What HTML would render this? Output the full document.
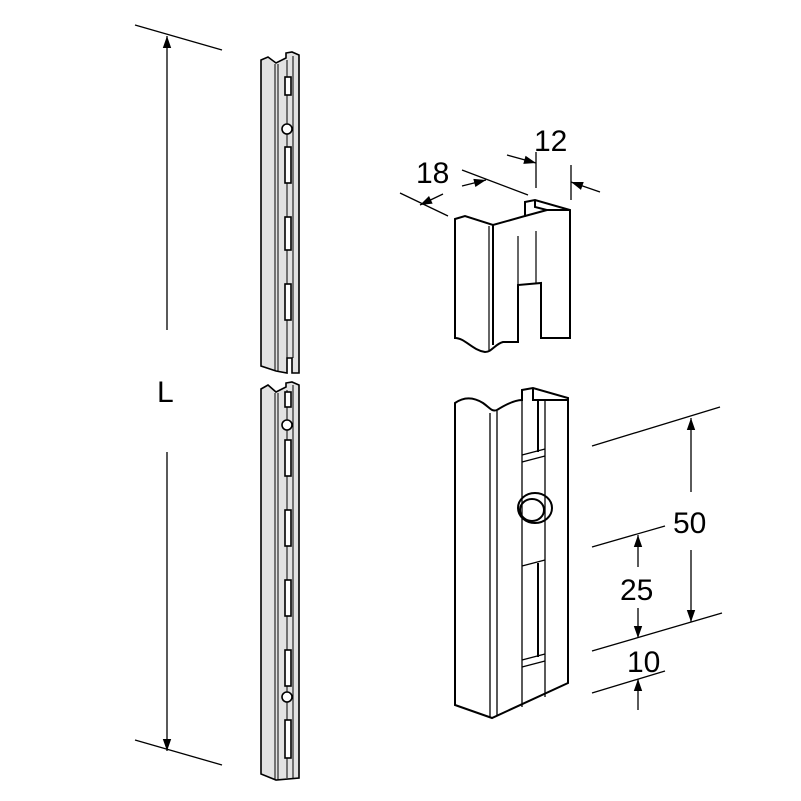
<!DOCTYPE html>
<html><head><style>
html,body{margin:0;padding:0;background:#fff}
svg{display:block}
text{font-family:"Liberation Sans",sans-serif;fill:#000}
</style></head><body>
<svg width="801" height="801" viewBox="0 0 801 801" xmlns="http://www.w3.org/2000/svg">
<defs>
<marker id="a" viewBox="0 0 10 10" refX="10" refY="5" markerWidth="14" markerHeight="12" orient="auto-start-reverse" markerUnits="userSpaceOnUse"><path d="M0,1.5 L10,5 L0,8.5z" fill="#000"/></marker>
</defs>
<g stroke="#000" stroke-width="1.3" fill="none">
<line x1="135" y1="25" x2="222" y2="50"/>
<line x1="135" y1="740" x2="222" y2="765"/>
<line x1="167" y1="330" x2="167" y2="36" marker-end="url(#a)"/>
<line x1="167" y1="452" x2="167" y2="751" marker-end="url(#a)"/>
</g>
<text x="157" y="402" font-size="30">L</text>

<g stroke="#000" stroke-width="1.6" fill="#e2e2e2">
<path d="M261,60 L268,57 L276,63 L286,58 L286,53 L292,52 L299,55 L299,373 L292,373 L292,358 L287,358 L287,373 L276,371 L261,366 Z"/>
<path d="M261,389 L268,385 L276,392 L286,387 L286,383 L292,382 L299,385 L299,778 L276,780 L261,774 Z"/>
</g>
<g stroke="#000" stroke-width="1" fill="none">
<line x1="275" y1="64" x2="275" y2="371"/><line x1="278" y1="64" x2="278" y2="371"/>
<line x1="287" y1="60" x2="287" y2="358"/><line x1="293" y1="56" x2="293" y2="358"/>
<line x1="275" y1="393" x2="275" y2="780"/><line x1="278" y1="393" x2="278" y2="780"/>
<line x1="287" y1="390" x2="287" y2="778"/><line x1="293" y1="385" x2="293" y2="778"/>
</g>
<g stroke="#000" stroke-width="1.6" fill="#fff">
<rect x="285" y="77" width="6" height="18"/>
<rect x="285" y="147" width="6" height="36"/>
<rect x="285" y="217" width="6" height="33"/>
<rect x="285" y="284" width="6" height="36"/>
<ellipse cx="287" cy="129" rx="5" ry="5"/>
<rect x="285" y="392" width="6" height="15"/>
<ellipse cx="287" cy="425" rx="5" ry="5"/>
<rect x="285" y="440" width="6" height="36"/>
<rect x="285" y="510" width="6" height="36"/>
<rect x="285" y="580" width="6" height="36"/>
<rect x="285" y="650" width="6" height="36"/>
<ellipse cx="287" cy="697" rx="5" ry="5"/>
<rect x="285" y="720" width="6" height="38"/>
</g>

<g stroke="#000" stroke-width="2" fill="#fff">
<path d="M455,219 L465,216 L493,225 L525,216 L525,202 L535,200 L570,210 L570,338 L541,338 L541,283 L518,285 L518,342 L503,342 C495,344 492,352 485,352 C472,350 465,338 455,338 Z"/>
<path d="M493,225 L493,345" fill="none"/>
<path d="M525,216 L547,210 L535,207 L535,201" fill="none"/>
<path d="M547,210 L570,210" fill="none"/>
</g>
<g stroke="#000" stroke-width="1.2" fill="none">
<line x1="489" y1="226" x2="489" y2="350"/>
<line x1="518" y1="236" x2="518" y2="285"/>
<line x1="536" y1="231" x2="536" y2="283"/>
</g>
<g stroke="#000" stroke-width="1.3" fill="none">
<line x1="400" y1="193" x2="448" y2="216"/>
<line x1="462" y1="170" x2="528" y2="195"/>
<line x1="443" y1="194" x2="420" y2="205" marker-end="url(#a)"/>
<line x1="462" y1="186" x2="486" y2="180" marker-end="url(#a)"/>
<line x1="536" y1="152" x2="536" y2="188"/>
<line x1="571" y1="165" x2="571" y2="200"/>
<line x1="507" y1="155" x2="536" y2="163" marker-end="url(#a)"/>
<line x1="600" y1="192" x2="571" y2="182" marker-end="url(#a)"/>
</g>
<text x="416" y="183" font-size="30">18</text>
<text x="534" y="151" font-size="30">12</text>

<g stroke="#000" stroke-width="2" fill="#fff">
<path d="M455,403 C465,396 475,398 483,403 C490,408 492,412 497,410 C505,405 514,400 522,400 L522,390 L533,388 L568,398 L568,683 L492,718 L455,705 Z"/>
<path d="M533,388 L533,400 L568,400" fill="none"/>
<ellipse cx="535" cy="508" rx="17" ry="15"/>
<ellipse cx="532" cy="510" rx="12" ry="11"/>
</g>
<g stroke="#000" stroke-width="1.3" fill="none">
<line x1="490" y1="413" x2="490" y2="717"/>
<line x1="497" y1="411" x2="497" y2="715"/>
<line x1="522" y1="400" x2="522" y2="707"/>
<line x1="545" y1="400" x2="545" y2="697"/>
<path d="M538,400 L538,452" stroke-width="2"/>
<path d="M522,455 L545,449 M522,462 L545,456"/>
<path d="M522,566 L545,560 M522,660 L545,654 M522,667 L545,661"/>
<line x1="538" y1="563" x2="538" y2="657" stroke-width="2"/>
</g>
<g stroke="#000" stroke-width="1.3" fill="none">
<line x1="592" y1="446" x2="720" y2="407"/>
<line x1="592" y1="547" x2="665" y2="526"/>
<line x1="592" y1="651" x2="722" y2="613"/>
<line x1="592" y1="693" x2="665" y2="671"/>
<line x1="691" y1="492" x2="691" y2="418" marker-end="url(#a)"/>
<line x1="691" y1="550" x2="691" y2="622" marker-end="url(#a)"/>
<line x1="638" y1="567" x2="638" y2="535" marker-end="url(#a)"/>
<line x1="638" y1="608" x2="638" y2="638" marker-end="url(#a)"/>
<line x1="638" y1="710" x2="638" y2="679" marker-end="url(#a)"/>
</g>
<text x="673" y="533" font-size="30">50</text>
<text x="620" y="600" font-size="30">25</text>
<text x="627" y="672" font-size="30">10</text>
</svg>
</body></html>
